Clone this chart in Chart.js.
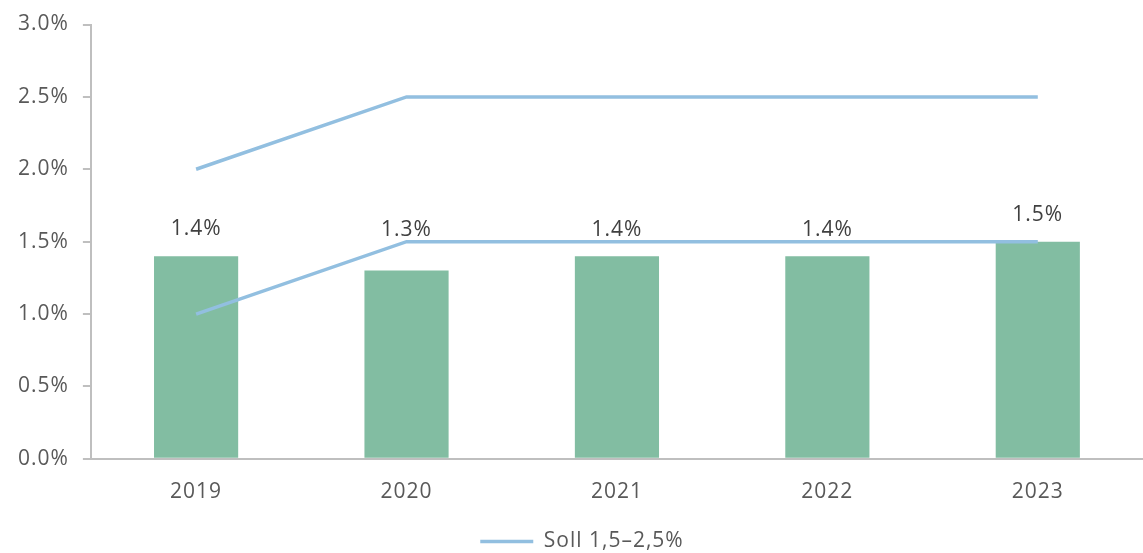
<!DOCTYPE html>
<html>
<head>
<meta charset="utf-8">
<script src="https://cdn.jsdelivr.net/npm/chart.js@4.4.0/dist/chart.umd.min.js"></script>
<style>
  html, body { margin: 0; padding: 0; background: #fff; overflow: hidden; }
  #wrap { width: 1143px; height: 553px; }
</style>
</head>
<body>
<div id="wrap"><canvas id="chart"></canvas></div>
<script>
const years = ['2019', '2020', '2021', '2022', '2023'];
const actual = [1.4, 1.3, 1.4, 1.4, 1.5];
const targetLow = [1.0, 1.5, 1.5, 1.5, 1.5];
const targetHigh = [2.0, 2.5, 2.5, 2.5, 2.5];
const legendLabel = 'Soll 1,5–2,5%';

const txt = '#595959';
const axisCol = '#bfbfbf';
const lineCol = '#92bfe0';
const barCol = '#82bda2';
const font = { family: 'Open Sans', size: 21 };

// wider letter spacing like the original
const spacing = {
  id: 'spacing',
  beforeInit(chart) { chart.ctx.letterSpacing = '1px'; },
  beforeDraw(chart) { chart.ctx.letterSpacing = '1px'; }
};

// labels above the bars, pushed up above the target line if it would cross them
const barLabels = {
  id: 'barLabels',
  afterDatasetsDraw(chart) {
    const ctx = chart.ctx;
    const bars = chart.getDatasetMeta(0).data;
    const low = chart.getDatasetMeta(1).data;
    ctx.save();
    ctx.font = '21px "Open Sans"';
    ctx.fillStyle = '#404040';
    ctx.textAlign = 'center';
    ctx.textBaseline = 'middle';
    bars.forEach((b, i) => {
      let y = b.y - 27;
      if (low[i] && low[i].y < b.y && low[i].y > y - 14) y = low[i].y - 12;
      ctx.fillText(actual[i].toFixed(1) + '%', b.x, y);
    });
    ctx.restore();
  }
};

new Chart(document.getElementById('chart'), {
  data: {
    labels: years,
    datasets: [
      {
        type: 'bar',
        label: 'Ist',
        data: actual,
        backgroundColor: barCol,
        barPercentage: 0.4,
        categoryPercentage: 1,
        order: 2
      },
      {
        type: 'line',
        label: legendLabel,
        data: targetLow,
        borderColor: lineCol,
        backgroundColor: lineCol,
        borderWidth: 3.5,
        pointRadius: 0,
        pointStyle: 'line',
        tension: 0,
        order: 1
      },
      {
        type: 'line',
        label: 'hidden',
        data: targetHigh,
        borderColor: lineCol,
        backgroundColor: lineCol,
        borderWidth: 3.5,
        pointRadius: 0,
        tension: 0,
        order: 1
      }
    ]
  },
  options: {
    responsive: true,
    maintainAspectRatio: false,
    animation: false,
    layout: { padding: { top: 5, right: 0, left: 8, bottom: -9 } },
    plugins: {
      tooltip: { enabled: false },
      legend: {
        position: 'bottom',
        labels: {
          font: font,
          color: txt,
          usePointStyle: true,
          pointStyleWidth: 53,
          boxWidth: 53,
          boxHeight: 4,
          padding: 2,
          filter: item => item.datasetIndex === 1
        }
      }
    },
    scales: {
      x: {
        grid: { display: false },
        border: { color: axisCol, width: 2 },
        ticks: { font: font, color: txt, padding: 13 },
        afterFit(scale) { scale.height += 11; }
      },
      y: {
        min: 0,
        max: 3,
        grid: { drawOnChartArea: false, color: axisCol, lineWidth: 2, tickLength: 8 },
        border: { color: axisCol, width: 2 },
        ticks: {
          stepSize: 0.5,
          font: { family: 'Open Sans', size: 21, lineHeight: 1 },
          color: txt,
          padding: 14,
          callback: v => v.toFixed(1) + '%'
        }
      }
    }
  },
  plugins: [spacing, barLabels]
});
</script>
</body>
</html>
